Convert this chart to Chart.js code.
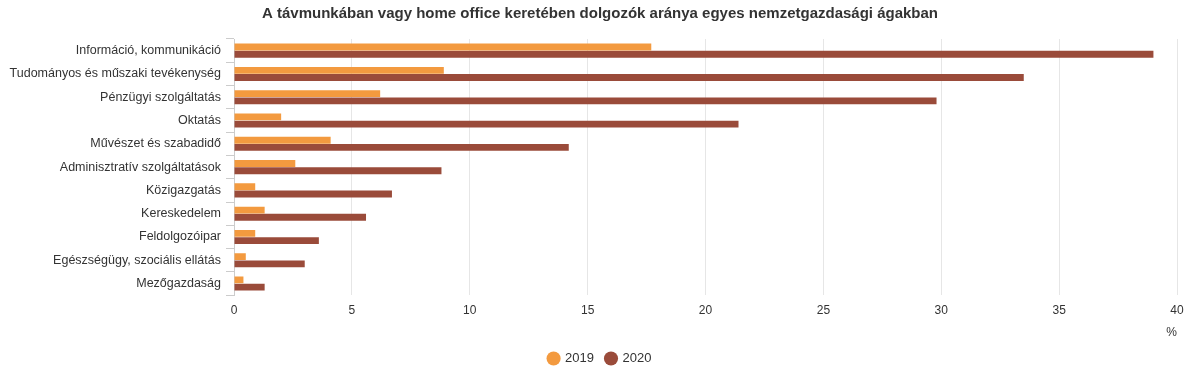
<!DOCTYPE html>
<html>
<head>
<meta charset="utf-8">
<script src="https://cdn.jsdelivr.net/npm/chart.js@4"></script>
<style>
  html, body { margin: 0; padding: 0; background: #fff; }
  #wrap { width: 1200px; height: 375px; }
</style>
</head>
<body>
<div id="wrap"><canvas id="chart" width="1200" height="375"></canvas></div>
<script>
let categories = [
    'Információ, kommunikáció',
    'Tudományos és műszaki tevékenység',
    'Pénzügyi szolgáltatás',
    'Oktatás',
    'Művészet és szabadidő',
    'Adminisztratív szolgáltatások',
    'Közigazgatás',
    'Kereskedelem',
    'Feldolgozóipar',
    'Egészségügy, szociális ellátás',
    'Mezőgazdaság'
];
let values2019 = [17.7, 8.9, 6.2, 2.0, 4.1, 2.6, 0.9, 1.3, 0.9, 0.5, 0.4];
let values2020 = [39.0, 33.5, 29.8, 21.4, 14.2, 8.8, 6.7, 5.6, 3.6, 3.0, 1.3];
let xTicks = [0, 5, 10, 15, 20, 25, 30, 35, 40];

Chart.defaults.font.family = '"Liberation Sans", Arial, sans-serif';
Chart.defaults.color = '#333';

let dataBar = {
    labels: categories,
    datasets: [{
        label: '2019',
        backgroundColor: '#f39a3f',
        borderWidth: 0,
        data: values2019
    }, {
        label: '2020',
        backgroundColor: '#9a4b3a',
        borderWidth: 0,
        data: values2020
    }]
};

function generateChart(){
    let context = document.getElementById("chart").getContext("2d");
    let chart = new Chart(context, {
        type: 'bar',
        data: dataBar,
        options: {
            indexAxis: 'y',
            responsive: false,
            animation: false,
            categoryPercentage: 0.62,
            barPercentage: 0.95,
            layout: { padding: { left: 7, right: 7, top: 3, bottom: 0 } },
            plugins: {
                title: {
                    display: true,
                    text: 'A távmunkában vagy home office keretében dolgozók aránya egyes nemzetgazdasági ágakban',
                    font: { size: 15, weight: 'bold' },
                    color: '#333',
                    padding: { top: 2, bottom: 16 }
                },
                legend: {
                    position: 'bottom',
                    labels: {
                        usePointStyle: true,
                        pointStyle: 'circle',
                        boxWidth: 10,
                        boxHeight: 10,
                        font: { size: 13 },
                        color: '#333',
                        padding: 12
                    }
                },
                tooltip: { enabled: false }
            },
            scales: {
                x: {
                    min: 0,
                    max: 40,
                    afterBuildTicks: (axis) => { axis.ticks = xTicks.map(v => ({ value: v })); },
                    grid: { color: '#e6e6e6', drawTicks: false },
                    border: { display: false },
                    ticks: { font: { size: 12 }, color: '#333', padding: 8 },
                    title: {
                        display: true,
                        text: '%',
                        align: 'end',
                        font: { size: 12 },
                        color: '#333',
                        padding: { top: 0, bottom: 0 }
                    }
                },
                y: {
                    afterFit: (axis) => { axis.width = 227; },
                    grid: {
                        offset: true,
                        drawOnChartArea: false,
                        drawTicks: true,
                        tickLength: 8,
                        color: '#ccc'
                    },
                    border: { display: true, color: '#ccc' },
                    ticks: { font: { size: 12.5 }, color: '#333', padding: 5 }
                },
                // empty strip on the right so the plot ends where the reference does
                yRight: {
                    type: 'category',
                    position: 'right',
                    labels: categories,
                    afterFit: (axis) => { axis.width = 16; },
                    grid: { display: false },
                    border: { display: false },
                    ticks: { display: false }
                }
            }
        }
    });
    return chart;
}

generateChart();
</script>
</body>
</html>
